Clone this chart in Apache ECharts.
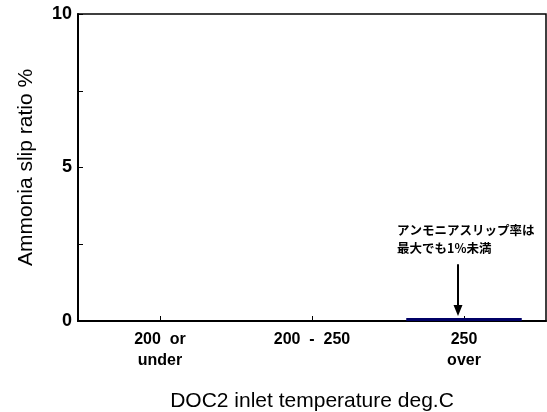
<!DOCTYPE html>
<html><head><meta charset="utf-8">
<script src="https://cdn.jsdelivr.net/npm/echarts@6/dist/echarts.min.js"></script>
<style>html,body{margin:0;padding:0;background:#fff}#c{width:547px;height:412px}</style>
</head><body><div id="c"></div>
<script>
const categories = ['200  or\nunder', '200  -  250', '250\nover'];
const slipValues = [0, 0.03, 0.1];
const barColors = ['#000000', '#000000', '#000066'];
const yTicks = [0, 2.5, 5, 7.5, 10];
const yLabelShown = [0, 5, 10];
const annotationText = 'アンモニアスリップ率は\n最大でも1%未満';
const arrowCategory = 2, arrowFrom = 1.85, arrowTo = 0.16;

const chart = echarts.init(document.getElementById('c'), null, {renderer: 'canvas'});
const font = 'Liberation Sans, Arial, sans-serif';
const yMin = yTicks[0], yMax = yTicks[yTicks.length - 1];
chart.setOption({
  animation: false,
  grid: [
    {left: 78, right: 1, top: 14, bottom: 91, containLabel: false, outerBoundsMode: 'none', show: true, borderColor: '#000', borderWidth: 1.5, backgroundColor: 'transparent'},
    {left: 84, right: 7, top: 14, bottom: 91, containLabel: false, outerBoundsMode: 'none'}
  ],
  xAxis: [{
    gridIndex: 0, type: 'category', data: categories,
    axisLine: {lineStyle: {color: '#000', width: 2}},
    axisTick: {show: false}, axisLabel: {show: false}
  }, {
    gridIndex: 1, type: 'category', data: categories,
    name: 'DOC2 inlet temperature deg.C', nameLocation: 'middle', nameGap: 70,
    nameTextStyle: {fontFamily: font, fontSize: 21, color: '#000'},
    axisLine: {show: false},
    axisTick: {show: true, inside: true, alignWithLabel: true, length: 5, lineStyle: {color: '#000', width: 1}},
    axisLabel: {fontFamily: font, fontSize: 16, fontWeight: 'bold', color: '#000', margin: 8, lineHeight: 21}
  }],
  yAxis: [{
    gridIndex: 0, type: 'value', min: yMin, max: yMax, interval: 2.5,
    name: 'Ammonia slip ratio %', nameLocation: 'middle', nameGap: 41,
    nameTextStyle: {fontFamily: font, fontSize: 21, color: '#000'},
    splitLine: {show: false},
    axisLine: {show: true, lineStyle: {color: '#000', width: 2}},
    axisTick: {show: true, inside: true, length: 5, lineStyle: {color: '#000', width: 1}},
    axisLabel: {fontFamily: font, fontSize: 18, fontWeight: 'bold', color: '#000', margin: 6,
      formatter: v => yLabelShown.includes(v) ? String(v) : ''}
  }, {
    gridIndex: 1, type: 'value', min: yMin, max: yMax, show: false
  }],
  series: [{
    type: 'bar', xAxisIndex: 1, yAxisIndex: 1, barWidth: '76%', z: 10,
    data: slipValues.map((v, i) => ({value: v, itemStyle: {color: barColors[i]}}))
  }]
});

const p0 = chart.convertToPixel({xAxisIndex: 1, yAxisIndex: 1}, [arrowCategory, arrowFrom]);
const p1 = chart.convertToPixel({xAxisIndex: 1, yAxisIndex: 1}, [arrowCategory, arrowTo]);
const ax = p0[0] - 6;
chart.setOption({
  graphic: [
    {type: 'line', shape: {x1: ax, y1: p0[1], x2: ax, y2: p1[1] - 9}, style: {stroke: '#000', lineWidth: 2}},
    {type: 'polygon', shape: {points: [[ax - 4.5, p1[1] - 11], [ax + 4.5, p1[1] - 11], [ax, p1[1]]]}, style: {fill: '#000'}},
    {type: 'text', left: 397, top: 221,
     style: {text: annotationText, fontFamily: 'Noto Sans CJK JP, sans-serif', fontSize: 12.5, fontWeight: 'bold', fill: '#000', lineHeight: 18}}
  ]
});
</script></body></html>
